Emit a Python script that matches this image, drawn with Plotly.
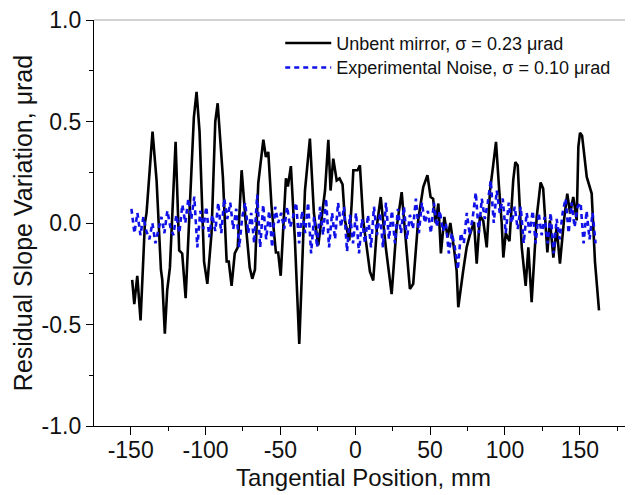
import numpy as np
import plotly.graph_objects as go

# Unbent mirror residual slope (mm, µrad)
mirror_x = [-149.0, -147.6, -145.6, -143.4, -140.5, -139.4, -135.4, -132.7, -129.8, -128.9,
            -127.2, -125.6, -123.8, -120.0, -117.6, -115.6, -113.3, -108.6, -107.8, -106.0,
            -104.0, -101.0, -98.8, -96.0, -93.5, -91.9, -90.5, -88.4, -85.9, -84.5,
            -82.6, -80.5, -78.5, -75.9, -72.6, -70.5, -68.8, -67.0, -64.8, -61.4,
            -59.7, -58.1, -55.9, -53.0, -51.5, -49.8, -46.3, -45.0, -43.0, -40.3,
            -37.4, -33.6, -30.3, -27.6, -24.7, -23.0, -20.2, -18.0, -16.5, -14.7,
            -12.4, -10.5, -8.5, -6.9, -4.0, -2.4, -1.3, 1.5, 3.1, 5.3,
            8.0, 9.8, 12.0, 14.7, 17.0, 20.5, 24.3, 27.5, 31.0, 33.9,
            36.5, 38.7, 42.0, 45.4, 48.2, 50.3, 52.0, 53.7, 55.5, 57.2,
            59.5, 61.7, 63.5, 66.1, 67.7, 68.8, 70.5, 72.1, 74.4, 76.5,
            79.3, 81.1, 83.3, 85.5, 87.8, 90.0, 92.2, 94.0, 96.0, 97.8,
            98.9, 100.5, 103.0, 105.5, 106.9, 108.5, 111.2, 113.8, 115.6, 117.8,
            121.2, 123.8, 125.5, 128.3, 130.0, 132.3, 134.5, 136.7, 139.4, 141.6,
            143.5, 145.6, 147.9, 149.0, 150.1, 151.5, 154.6, 157.9, 160.1, 162.8]
mirror_y = [-0.28, -0.40, -0.26, -0.48, 0.00, 0.05, 0.45, 0.21, -0.23, -0.28,
            -0.545, -0.33, -0.22, 0.40, -0.135, -0.15, -0.37, 0.457, 0.52, 0.646,
            0.45, -0.19, -0.30, -0.05, 0.50, 0.59, 0.45, 0.225, -0.19, -0.19,
            -0.31, -0.15, -0.12, 0.26, -0.05, -0.22, -0.275, -0.23, 0.195, 0.41,
            0.325, 0.35, 0.08, -0.145, -0.145, -0.26, 0.22, 0.18, 0.28, -0.086,
            -0.596, 0.16, 0.416, 0.047, -0.11, 0.005, 0.16, 0.41, 0.16, 0.317,
            0.21, 0.22, 0.19, 0.013, -0.086, 0.095, 0.26, 0.26, 0.284, 0.013,
            -0.135, -0.24, -0.283, 0.0, 0.128, -0.127, -0.35, -0.03, 0.152, -0.12,
            -0.325, -0.30, 0.013, 0.177, 0.235, 0.128, 0.12, 0.0, 0.096, -0.15,
            0.03, -0.07, 0.0, -0.135, -0.234, -0.415, -0.316, -0.234, -0.12, -0.06,
            0.005, -0.20, 0.037, 0.01, -0.12, 0.16, 0.29, 0.40, 0.177, 0.0,
            -0.17, -0.05, -0.09, 0.21, 0.30, 0.284, -0.12, -0.31, -0.12, -0.39,
            0.03, 0.20, 0.17, -0.145, 0.013, -0.17, -0.02, -0.20, 0.013, 0.145,
            0.047, 0.128, 0.013, 0.375, 0.444, 0.43, 0.227, 0.145, -0.19, -0.43]

# Experimental noise, sampled every 2 mm starting at -149.5 mm
noise_start = -149.5
noise_step = 2.0
noise_y = [0.07, -0.05, 0.05, -0.06, 0.03,
           -0.04, -0.08, 0.0, -0.10, -0.03,
           0.03, -0.05, 0.06, -0.02, -0.06,
           0.04, -0.05, 0.09, 0.0, 0.12,
           0.02, 0.13, -0.12, 0.06, -0.03,
           0.08, -0.07, 0.04, -0.04, 0.10,
           -0.05, 0.12, 0.02, 0.10, -0.03,
           0.07, -0.12, 0.03, 0.10, -0.05,
           0.05, -0.10, 0.14, -0.12, 0.09,
           -0.08, 0.06, -0.12, 0.08, 0.0,
           0.05, -0.03, 0.08, -0.02, 0.03,
           0.10, -0.10, 0.06, -0.05, 0.10,
           -0.15, 0.03, -0.12, 0.08, -0.06,
           0.12, -0.12, 0.05, -0.08, 0.10,
           -0.02, 0.08, -0.14, 0.04, -0.10,
           0.05, -0.15, 0.02, -0.10, 0.04,
           -0.12, 0.08, -0.06, 0.05, -0.12,
           0.10, -0.08, 0.06, -0.10, 0.07,
           -0.05, 0.08, -0.08, 0.04, -0.03,
           0.12, -0.05, 0.10, 0.0, 0.06,
           -0.05, 0.10, -0.02, 0.06, -0.04,
           0.0, -0.15, -0.05, -0.12, -0.23,
           -0.05, -0.10, 0.05, -0.06, 0.03,
           0.15, -0.05, 0.12, 0.02, 0.10,
           0.21, 0.0, 0.16, 0.05, 0.12,
           -0.05, 0.10, 0.0, 0.08, -0.03,
           0.08, -0.10, 0.05, -0.05, 0.06,
           -0.10, 0.05, -0.06, 0.03, -0.10,
           0.05, -0.15, 0.02, -0.08, 0.05,
           0.12, -0.05, 0.10, -0.02, 0.08,
           0.10, -0.10, 0.06, -0.08, 0.05,
           -0.10]
noise_x = noise_start + noise_step * np.arange(len(noise_y))

x_ticks = [-150, -100, -50, 0, 50, 100, 150]
x_ticklabels = ["-150", "-100", "-50", "0", "50", "100", "150"]
y_ticks = [-1.0, -0.5, 0.0, 0.5, 1.0]
y_ticklabels = ["-1.0", "-0.5", "0.0", "0.5", "1.0"]

FONT = "Liberation Sans, Arial, sans-serif"
TXT = "#111111"

fig = go.Figure()
fig.add_trace(go.Scatter(
    x=mirror_x, y=mirror_y, mode="lines",
    name="Unbent mirror, σ = 0.23 μrad",
    line=dict(color="#000000", width=2.6),
    legend="legend",
))
fig.add_trace(go.Scatter(
    x=noise_x, y=noise_y, mode="lines",
    name="Experimental Noise, σ = 0.10 μrad",
    line=dict(color="#1010E8", width=2.6, dash="5px,4px"),
    legend="legend2",
))

legend_common = dict(
    xanchor="left", yanchor="middle",
    bgcolor="rgba(0,0,0,0)", borderwidth=0,
    font=dict(size=18, family=FONT, color=TXT),
    itemwidth=46,
)

# page body has an 8px default margin, so the figure is sized to fit the window
fig.update_layout(
    width=625, height=487,
    margin=dict(l=86, r=0, t=12, b=69, autoexpand=False),
    paper_bgcolor="white", plot_bgcolor="white",
    font=dict(family=FONT, color=TXT),
    showlegend=True,
    legend=dict(x=0.3455, y=0.9426, **legend_common),
    legend2=dict(x=0.3455, y=0.8824, **legend_common),
    xaxis=dict(
        range=[-174.5, 185.5], automargin=False,
        tickmode="array", tickvals=x_ticks, ticktext=x_ticklabels,
        ticks="outside", ticklen=8, tickwidth=1.3, tickcolor="#000000",
        minor=dict(dtick=25, ticks="outside", ticklen=4, tickwidth=1.2, tickcolor="#000000"),
        showline=True, linecolor="#000000", linewidth=1.3,
        showgrid=False, zeroline=False,
        tickfont=dict(size=23, family=FONT, color=TXT),
        ticklabelstandoff=-5, ticklabeloverflow="allow",
        title=dict(text="Tangential Position, mm", font=dict(size=24, family=FONT, color=TXT), standoff=7),
    ),
    yaxis=dict(
        range=[-1.0, 1.0], automargin=False,
        tickmode="array", tickvals=y_ticks, ticktext=y_ticklabels,
        ticks="outside", ticklen=7, tickwidth=1.3, tickcolor="#000000",
        minor=dict(dtick=0.25, ticks="outside", ticklen=4, tickwidth=1.2, tickcolor="#000000"),
        showline=True, linecolor="#000000", linewidth=1.3,
        showgrid=False, zeroline=False,
        tickfont=dict(size=23, family=FONT, color=TXT),
        ticklabeloverflow="allow",
        title=dict(text="Residual Slope Variation, μrad", font=dict(size=25, family=FONT, color=TXT), standoff=1),
    ),
    shapes=[dict(type="line", xref="paper", yref="paper", x0=0, x1=1, y0=1, y1=1,
                 line=dict(color="#A8A8A8", width=1.2))],
)

fig.write_html("out.html")
